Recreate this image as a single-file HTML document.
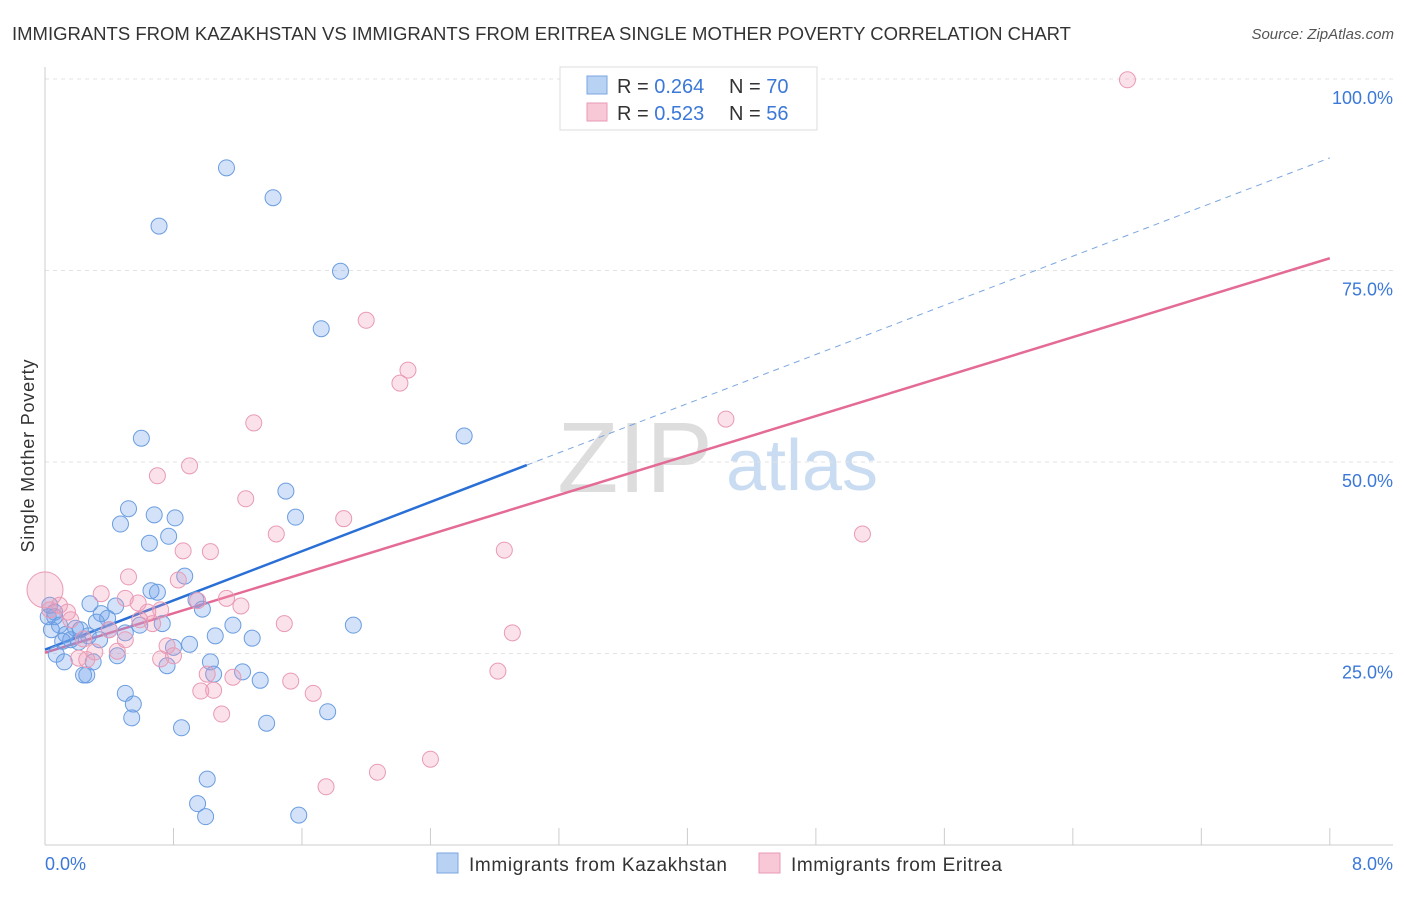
<!DOCTYPE html>
<html><head><meta charset="utf-8"><style>
body{margin:0;background:#fff;font-family:"Liberation Sans",sans-serif;}
svg text{font-family:"Liberation Sans",sans-serif;}
</style></head><body>
<svg id="chart" width="1406" height="892" xmlns="http://www.w3.org/2000/svg">
<text x="12" y="40" font-size="18" fill="#333" textLength="1059" lengthAdjust="spacingAndGlyphs">IMMIGRANTS FROM KAZAKHSTAN VS IMMIGRANTS FROM ERITREA SINGLE MOTHER POVERTY CORRELATION CHART</text>
<text x="1394" y="39" font-size="15" fill="#555" font-style="italic" text-anchor="end">Source: ZipAtlas.com</text>
<text transform="translate(34,456) rotate(-90)" font-size="18" fill="#333" text-anchor="middle" textLength="193">Single Mother Poverty</text>
<g>
<text x="635" y="492" font-size="100" fill="#ddd" font-family="Liberation Serif" text-anchor="middle">ZIP</text>
<text x="802" y="490" font-size="72" fill="#c9dcf2" text-anchor="middle">atlas</text></g>
<g id="grid"></g><g id="axes"></g><g id="lines"></g><g id="pts"></g>
<g>
<rect x="560" y="67" width="257" height="63" fill="#fff" stroke="#ddd"/>
<rect x="587" y="76" width="20" height="18" fill="#b8d2f3" stroke="#7aa6e0"/>
<rect x="587" y="103" width="20" height="18" fill="#f8c8d6" stroke="#e99ab5"/>
<text x="617" y="93" font-size="20" fill="#333">R = <tspan fill="#3b78d8">0.264</tspan></text>
<text x="729" y="93" font-size="20" fill="#333">N = <tspan fill="#3b78d8">70</tspan></text>
<text x="617" y="120" font-size="20" fill="#333">R = <tspan fill="#3b78d8">0.523</tspan></text>
<text x="729" y="120" font-size="20" fill="#333">N = <tspan fill="#3b78d8">56</tspan></text>
</g>
<g>
<rect x="437" y="853" width="21" height="20" fill="#b8d2f3" stroke="#7aa6e0"/>
<text x="469" y="871" font-size="19" fill="#333" textLength="258">Immigrants from Kazakhstan</text>
<rect x="759" y="853" width="21" height="20" fill="#f8c8d6" stroke="#e99ab5"/>
<text x="791" y="871" font-size="19" fill="#333" textLength="211">Immigrants from Eritrea</text>
</g>
</svg>
<script>
const yTicks=[25,50,75,100];
const yTickLabels=["25.0%","50.0%","75.0%","100.0%"];
const xLabels=["0.0%","8.0%"];
const blueX=[1.13,1.42,0.71,1.84,1.72,0.60,2.61,1.50,0.52,0.68,0.81,1.56,0.47,0.77,0.65,0.87,0.66,0.70,0.28,0.98,0.44,0.35,0.39,0.06,0.94,1.17,0.73,1.92,0.32,0.50,0.19,0.13,0.27,0.16,0.21,1.06,1.29,0.80,0.90,0.11,0.07,0.45,0.30,0.12,1.03,0.76,1.23,1.05,0.24,0.26,1.34,0.50,0.55,0.54,1.76,1.38,0.85,1.01,0.95,1.00,1.58,0.04,0.02,0.06,0.22,0.40,0.34,0.09,0.59,0.03];
const blueY=[88.4,84.5,80.8,74.9,67.4,53.1,53.4,46.2,43.9,43.1,42.7,42.8,41.9,40.3,39.4,35.1,33.2,33.0,31.5,30.8,31.2,30.2,29.6,29.8,32.0,28.7,28.9,28.7,29.1,27.7,28.3,27.5,27.3,26.8,26.5,27.3,27.0,25.8,26.2,26.6,24.9,24.7,23.9,23.9,23.9,23.4,22.6,22.3,22.2,22.2,21.5,19.8,18.4,16.6,17.4,15.9,15.3,8.6,5.4,3.7,3.9,28.1,29.8,30.4,28.1,28.1,26.8,28.7,28.7,31.3];
const pinkX=[6.74,2.00,2.26,2.21,4.24,1.30,0.90,0.70,1.25,1.86,1.44,5.09,2.86,0.86,1.03,0.52,0.83,0.35,0.50,1.13,1.22,0.95,0.58,0.09,0.64,0.14,0.67,1.49,2.91,0.40,0.24,0.31,0.76,0.45,0.72,0.80,0.26,0.21,2.82,1.01,1.17,1.53,1.67,0.97,1.05,1.10,2.40,2.07,1.75,0.03,0.16,0.59,0.72,0.50,0.0];
const pinkY=[99.9,68.5,62.0,60.3,55.6,55.1,49.5,48.2,45.2,42.6,40.6,40.6,38.5,38.4,38.3,35.0,34.6,32.8,32.2,32.2,31.2,31.9,31.6,31.3,30.4,30.4,28.9,28.9,27.7,28.1,26.9,25.2,26.0,25.3,24.3,24.7,24.2,24.4,22.7,22.3,21.9,21.4,19.8,20.1,20.2,17.1,11.2,9.5,7.6,30.7,29.4,29.4,30.7,26.8,33.3];
const blueTrend=[25.5,49.6,89.7];
const blueTrendX=[0,3.0,8];
const pinkTrend=[25.1,76.6];
const pinkTrendX=[0,8];

const NS="http://www.w3.org/2000/svg";
const sx=v=>45+v*160.6, sy=v=>845-v*7.66;
function mk(tag,attrs,parent){const e=document.createElementNS(NS,tag);for(const k in attrs)e.setAttribute(k,attrs[k]);document.getElementById(parent).appendChild(e);return e;}
yTicks.forEach((t,i)=>{
 const g=mk('line',{x1:45,x2:1393,y1:sy(t),y2:sy(t),stroke:'#e3e3e3','stroke-dasharray':'4,4'},'grid');
 
 
 const l=mk('text',{x:1393,y:sy(t)+25,'font-size':18,fill:'#3b78d8','text-anchor':'end'},'grid');
 l.textContent=yTickLabels[i];
 
 
});
const ax=mk('line',{x1:45,x2:45,y1:67,y2:845,stroke:'#ccc'},'axes');


const bx=mk('line',{x1:45,x2:1393,y1:845,y2:845,stroke:'#ccc'},'axes');


for(let i=0;i<=10;i++){const t=mk('line',{x1:sx(i*0.8),x2:sx(i*0.8),y1:828,y2:845,stroke:'#ccc'},'axes');
 
 }
[[0,'start',45],[8,'end',1393]].forEach((d,i)=>{const t=mk('text',{x:d[2],y:870,'font-size':18,fill:'#3b78d8','text-anchor':d[1]},'axes');t.textContent=xLabels[i];
 
 });
function dot(x,y,r,fill,stroke,name){const c=mk('circle',{cx:sx(x),cy:sy(y),r:r,fill:fill,stroke:stroke,'stroke-width':1},'pts');
 
 }
blueX.forEach((x,i)=>dot(x,blueY[i],8,'rgba(110,160,235,0.3)','#6a9de0','kazakhstan-point'));
pinkX.forEach((x,i)=>dot(x,pinkY[i],i==pinkX.length-1?18:8,'rgba(240,150,180,0.28)','#e99ab5','eritrea-point'));
const b1=mk('line',{x1:sx(blueTrendX[0]),y1:sy(blueTrend[0]),x2:sx(blueTrendX[1]),y2:sy(blueTrend[1]),stroke:'#2a6fd6','stroke-width':2.5},'lines');


const b2=mk('line',{x1:sx(blueTrendX[1]),y1:sy(blueTrend[1]),x2:sx(blueTrendX[2]),y2:sy(blueTrend[2]),stroke:'#7aa6e0','stroke-width':1,'stroke-dasharray':'6,5'},'lines');


const p1=mk('line',{x1:sx(pinkTrendX[0]),y1:sy(pinkTrend[0]),x2:sx(pinkTrendX[1]),y2:sy(pinkTrend[1]),stroke:'#e36b96','stroke-width':2.5},'lines');


</script>
</body></html>
